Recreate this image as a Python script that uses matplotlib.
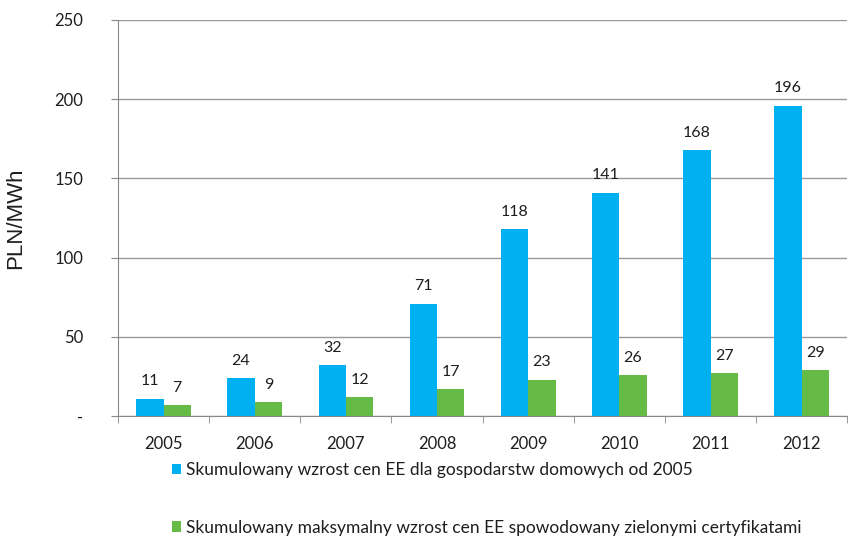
import matplotlib.pyplot as plt
import numpy as np

years = ['2005', '2006', '2007', '2008', '2009', '2010', '2011', '2012']
household = [11, 24, 32, 71, 118, 141, 168, 196]
green_cert = [7, 9, 12, 17, 23, 26, 27, 29]
labels = ['Skumulowany wzrost cen EE dla gospodarstw domowych od 2005',
          'Skumulowany maksymalny wzrost cen EE spowodowany zielonymi certyfikatami']

plt.rcParams['font.family'] = ['Lato', 'DejaVu Sans']
txt_color = '#1e1e1e'

fig = plt.figure(figsize=(8.58, 5.39), dpi=100)
ax = fig.add_axes([0.1375, 0.228, 0.850, 0.735])

x = np.arange(len(years))
w = 0.30
b1 = ax.bar(x - w / 2, household, w, color='#00B0F0', label=labels[0], zorder=3)
b2 = ax.bar(x + w / 2, green_cert, w, color='#66BB46', label=labels[1], zorder=3)

# value labels above bars
for bars in (b1, b2):
    for r in bars:
        ax.annotate(f'{r.get_height():.0f}', (r.get_x() + r.get_width() / 2, r.get_height()),
                    xytext=(0, 9.5), textcoords='offset points', ha='center', va='baseline',
                    fontsize=11.5, color=txt_color)

ax.set_xlim(-0.5, len(years) - 0.5)
ax.set_ylim(0, 250)
ax.set_yticks([0, 50, 100, 150, 200, 250])
ax.set_yticklabels(['-', '50', '100', '150', '200', '250'])
ax.set_xticks(x)
ax.set_xticklabels(years)
ax.set_xticks(np.arange(-0.5, len(years)), minor=True)
ax.tick_params(axis='x', which='major', length=0, pad=14, labelsize=12, labelcolor=txt_color)
ax.tick_params(axis='x', which='minor', length=5, color='#888888')
ax.tick_params(axis='y', length=5, color='#888888', pad=20, labelsize=12, labelcolor=txt_color)

ax.grid(axis='y', color='#999999', linewidth=1, zorder=0)
for s in ('top', 'right'):
    ax.spines[s].set_visible(False)
for s in ('left', 'bottom'):
    ax.spines[s].set_color('#888888')

ax.set_ylabel('PLN/MWh', fontsize=16, family='Liberation Sans', labelpad=20, color=txt_color)

fig.legend(handles=[b1, b2], loc='upper left', bbox_to_anchor=(0.19, 0.159),
           frameon=False, fontsize=12.5, handlelength=0.55, handleheight=0.55,
           handletextpad=0.3, labelspacing=2.4, borderpad=0, labelcolor=txt_color)

fig.savefig('out.png', dpi=100)
